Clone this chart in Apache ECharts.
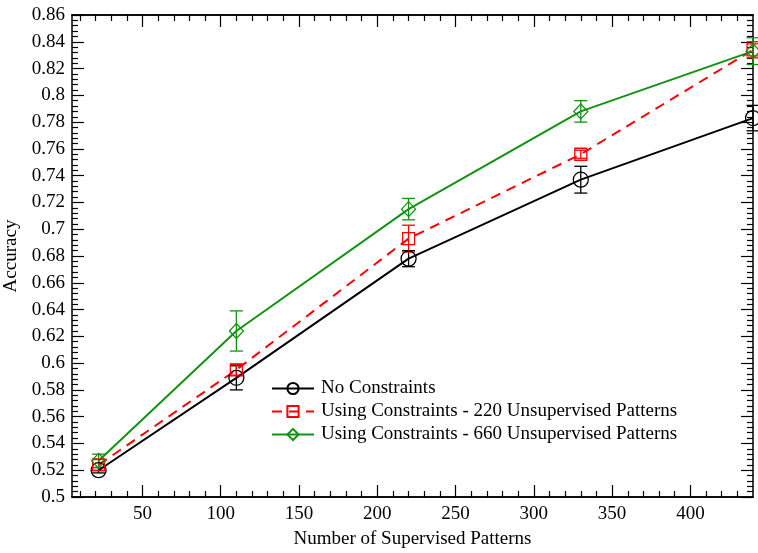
<!DOCTYPE html>
<html>
<head>
<meta charset="utf-8">
<script src="https://cdn.jsdelivr.net/npm/echarts@6/dist/echarts.min.js"></script>
<style>
  html, body { margin: 0; padding: 0; background: #fff; }
  #chart { width: 758px; height: 553px; }
</style>
</head>
<body>
<div id="chart"></div>
<script>
  // supervised pattern counts
  var xValues = [22, 110, 220, 330, 440];

  var seriesNames = [
    'No Constraints',
    'Using Constraints - 220 Unsupervised Patterns',
    'Using Constraints - 660 Unsupervised Patterns'
  ];

  // mean accuracy
  var noConstraints = [0.520, 0.589, 0.678, 0.737, 0.783];
  var constraints220 = [0.524, 0.595, 0.693, 0.756, 0.834];
  var constraints660 = [0.527, 0.624, 0.715, 0.788, 0.833];

  // error bar half widths
  var errNo = [0.002, 0.009, 0.006, 0.010, 0.0095];
  var err220 = [0.004, 0.004, 0.010, 0.003, 0.006];
  var err660 = [0.005, 0.015, 0.008, 0.008, 0.010];

  var xMajorTicks = [50, 100, 150, 200, 250, 300, 350, 400];
  var xMinorTicks = [];
  for (var t = 10; t < 440; t += 10) {
    if (t % 50 !== 0) xMinorTicks.push(t);
  }

  var colors = ['#000000', '#ff0000', '#119311'];
  var FONT = 'Liberation Serif';
  var FS = 19;

  function pairs(vals) {
    return xValues.map(function (x, i) { return [x, vals[i]]; });
  }
  function bars(vals, errs) {
    return xValues.map(function (x, i) { return [x, vals[i] - errs[i], vals[i] + errs[i]]; });
  }

  function errorSeries(vals, errs, color) {
    return {
      type: 'custom',
      xAxisIndex: 0,
      yAxisIndex: 0,
      silent: true,
      z: 3,
      data: bars(vals, errs),
      renderItem: function (params, api) {
        var lo = api.coord([api.value(0), api.value(1)]);
        var hi = api.coord([api.value(0), api.value(2)]);
        var w = 6.5;
        var st = { stroke: color, lineWidth: 1.3 };
        return {
          type: 'group',
          children: [
            { type: 'line', shape: { x1: lo[0], y1: lo[1], x2: hi[0], y2: hi[1] }, style: st },
            { type: 'line', shape: { x1: lo[0] - w, y1: lo[1], x2: lo[0] + w, y2: lo[1] }, style: st },
            { type: 'line', shape: { x1: hi[0] - w, y1: hi[1], x2: hi[0] + w, y2: hi[1] }, style: st }
          ]
        };
      }
    };
  }

  function xAxisDef(pos, ticks, len, showLabel, showName) {
    return {
      type: 'value',
      position: pos,
      min: 5,
      max: 440,
      axisLine: { show: true, lineStyle: { color: '#000', width: 1.5 } },
      axisTick: { show: true, inside: true, length: len, customValues: ticks, lineStyle: { color: '#000', width: 1.2 } },
      axisLabel: {
        show: showLabel,
        customValues: xMajorTicks,
        margin: 8,
        color: '#000',
        fontFamily: FONT,
        fontSize: FS
      },
      splitLine: { show: false },
      name: showName ? 'Number of Supervised Patterns' : '',
      nameLocation: 'middle',
      nameGap: 33,
      nameTextStyle: { color: '#000', fontFamily: FONT, fontSize: FS }
    };
  }

  function yAxisDef(pos, showLabel) {
    return {
      type: 'value',
      position: pos,
      min: 0.5,
      max: 0.86,
      interval: 0.02,
      axisLine: { show: true, lineStyle: { color: '#000', width: 1.5 } },
      axisTick: { show: true, inside: true, length: 12, lineStyle: { color: '#000', width: 1.2 } },
      minorTick: { show: true, splitNumber: 5, length: 6, lineStyle: { color: '#000', width: 1.2 } },
      axisLabel: {
        show: showLabel,
        margin: 7,
        color: '#000',
        fontFamily: FONT,
        fontSize: FS
      },
      splitLine: { show: false },
      minorSplitLine: { show: false },
      name: showLabel ? 'Accuracy' : '',
      nameLocation: 'middle',
      nameGap: 46,
      nameTextStyle: { color: '#000', fontFamily: FONT, fontSize: FS }
    };
  }

  var chart = echarts.init(document.getElementById('chart'));

  var option = {
    animation: false,
    backgroundColor: '#fff',
    textStyle: { fontFamily: FONT },
    grid: { left: 72, right: 5, top: 15, bottom: 56, containLabel: false, outerBoundsMode: 'none' },
    legend: {
      orient: 'vertical',
      left: 271,
      top: 379,
      padding: 0,
      itemGap: 4,
      itemWidth: 42,
      itemHeight: 14,
      textStyle: { color: '#000', fontFamily: FONT, fontSize: FS, padding: [0, 0, 0, 2] },
      data: seriesNames
    },
    xAxis: [
      xAxisDef('bottom', xMajorTicks, 12, true, true),
      xAxisDef('bottom', xMinorTicks, 6, false, false),
      xAxisDef('top', xMajorTicks, 12, false, false),
      xAxisDef('top', xMinorTicks, 6, false, false)
    ],
    yAxis: [
      yAxisDef('left', true),
      yAxisDef('right', false)
    ],
    series: [
      errorSeries(noConstraints, errNo, colors[0]),
      errorSeries(constraints220, err220, colors[1]),
      errorSeries(constraints660, err660, colors[2]),
      {
        name: seriesNames[0],
        type: 'line',
        data: pairs(noConstraints),
        symbol: 'circle',
        symbolSize: 15,
        showAllSymbol: true,
        lineStyle: { color: colors[0], width: 2 },
        itemStyle: { color: 'rgba(255,255,255,0)', borderColor: colors[0], borderWidth: 1.3 },
        z: 4
      },
      {
        name: seriesNames[1],
        type: 'line',
        data: pairs(constraints220),
        symbol: 'rect',
        symbolSize: 12,
        lineStyle: { color: colors[1], width: 2, type: [10, 7] },
        itemStyle: { color: 'rgba(255,255,255,0)', borderColor: colors[1], borderWidth: 1.3 },
        z: 4
      },
      {
        name: seriesNames[2],
        type: 'line',
        data: pairs(constraints660),
        symbol: 'diamond',
        symbolSize: [14, 15],
        lineStyle: { color: colors[2], width: 2 },
        itemStyle: { color: 'rgba(255,255,255,0)', borderColor: colors[2], borderWidth: 1.3 },
        z: 4
      }
    ]
  };

  chart.setOption(option);
</script>
</body>
</html>
